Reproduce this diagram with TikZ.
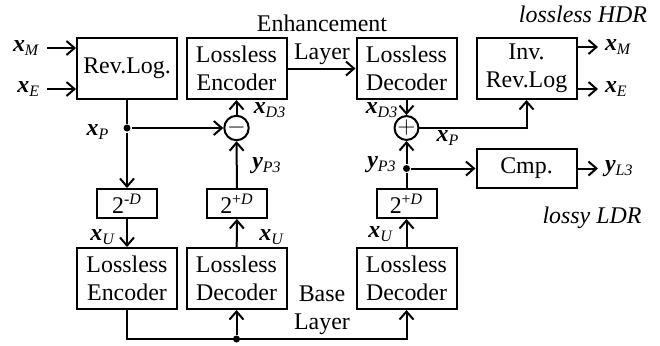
\documentclass[tikz,border=0pt]{standalone}
\usepackage{fontspec}
\setmainfont{Liberation Serif}
\usepackage{tikz}
\usetikzlibrary{calc,positioning,arrows.meta}
\newcommand{\sig}[2]{\textbf{\textit{#1}}\textsubscript{\textit{#2}}}

\begin{document}
\begin{tikzpicture}[x=0.5bp,y=-0.5bp,line width=1bp,>={Straight Barb[length=4bp,width=7bp]}]
\tikzstyle{every node} = [font=\fontsize{12}{14}\selectfont, inner sep=1bp];
\tikzstyle{blk} = [draw, align=center, minimum width=50bp, minimum height=30.5bp];
\tikzstyle{sblk} = [draw, minimum width=30bp, minimum height=14.5bp];
\tikzstyle{sum} = [draw, circle, inner sep=0pt, minimum size=10bp];
\tikzstyle{dot} = [fill, circle, inner sep=0pt, minimum size=3.5bp];
\tikzstyle{term} = [inner sep=3bp];
\useasboundingbox (0,0) rectangle (660,345);
% blocks
\node[blk] (R) at (127,68.5) {Rev.Log.};
\node[blk] (EE) at (236.5,68.5) {Lossless\\Encoder};
\node[blk] (DE) at (406.5,68.5) {Lossless\\Decoder};
\node[blk] (IR) at (526.5,68.5) {Inv.\\Rev.Log};
\node[blk, minimum height=19.5bp] (C) at (526.5,168.5) {Cmp.};
\node[sblk] (S1) at (127,203.5) {2\textsuperscript{-\textit{D}}};
\node[sblk] (S2) at (237,203.5) {2\textsuperscript{+\textit{D}}};
\node[sblk] (S3) at (406.5,203.5) {2\textsuperscript{+\textit{D}}};
\node[blk] (EB) at (127,278.5) {Lossless\\Encoder};
\node[blk] (DB) at (236.5,278.5) {Lossless\\Decoder};
\node[blk] (DR) at (406.5,278.5) {Lossless\\Decoder};
\node[sum] (M) at (236.5,128) {$-$};
\node[sum] (P) at (406.5,128) {$+$};
% junctions
\node[dot] (J1) at (127,128) {};
\node[dot] (J2) at (406.5,168.5) {};
\node[dot] (J3) at (236.5,339) {};
\coordinate (B1) at (127,339);
\coordinate (B2) at (406.5,339);
% signals
\node[term, anchor=east] (iM) at (47,48) {\sig{x}{M}};
\node[term, anchor=east] (iE) at (47,89) {\sig{x}{E}};
\node[term, anchor=west] (oM) at (598,47) {\sig{x}{M}};
\node[term, anchor=west] (oE) at (598,89) {\sig{x}{E}};
\node[term, anchor=west] (oL) at (598,168.5) {\sig{y}{L3}};
\draw[->] (iM) -- (R.west |- iM);
\draw[->] (iE) -- (R.west |- iE);
\draw[->] (IR.east |- oM) -- (oM);
\draw[->] (IR.east |- oE) -- (oE);
\draw[->] (C) -- (oL);
\draw (R) -- (J1);
\draw[->] (J1) -- (M);
\draw[->] (J1) -- (S1);
\draw[->] (S1) -- (EB);
\draw[->] (M) -- (EE);
\draw[->] (S2) -- (M);
\draw[->] (DB) -- (S2);
\draw[->] (EE) -- (DE);
\draw[->] (DE) -- (P);
\draw[->] (J2) -- (P);
\draw[->] (P) -| (IR);
\draw[->] (J2) -- (C);
\draw (S3) -- (J2);
\draw[->] (DR) -- (S3);
\draw[->] (EB) -- (B1) -- (B2) -- (DR);
\draw[->] (J3) -- (DB);
% labels
\node at (98,132) {\sig{x}{P}};
\node at (270,110) {\sig{x}{D3}};
\node at (267,166) {\sig{y}{P3}};
\node at (382,110) {\sig{x}{D3}};
\node at (448,138) {\sig{x}{P}};
\node at (382,165) {\sig{y}{P3}};
\node at (103,237) {\sig{x}{U}};
\node at (272,237) {\sig{x}{U}};
\node at (381,234) {\sig{x}{U}};
\node[align=center] at (322,40) {Enhancement\\Layer};
\node[align=center] at (322,310) {Base\\Layer};
\node at (583,14) {\textit{lossless HDR}};
\node at (592,218) {\textit{lossy LDR}};
\end{tikzpicture}
\end{document}
